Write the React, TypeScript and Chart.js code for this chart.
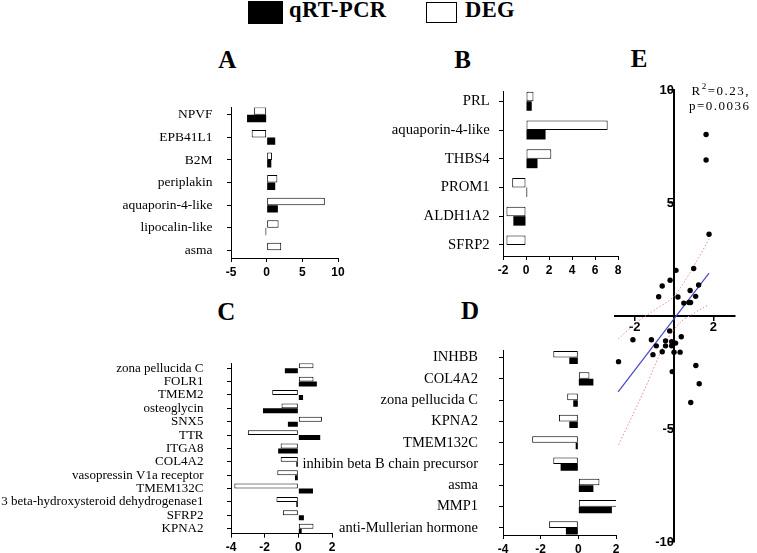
import React, { useEffect, useRef } from 'react';
import { Chart, registerables } from 'chart.js';

Chart.register(...registerables);

// ---------- DATA ----------
const labelsA = ['NPVF', 'EPB41L1', 'B2M', 'periplakin', 'aquaporin-4-like', 'lipocalin-like', 'asma'];
const degA = [-1.8, -2.1, 0.74, 1.5, 8.15, 1.67, 2.04];
const qpcrA: (number | null)[] = [-2.75, 1.2, 0.65, 1.2, 1.57, -0.15, null];

const labelsB = ['PRL', 'aquaporin-4-like', 'THBS4', 'PROM1', 'ALDH1A2', 'SFRP2'];
const degB = [0.65, 7.1, 2.2, -1.2, -1.7, -1.7];
const qpcrB: (number | null)[] = [0.5, 1.7, 1.0, 0.1, -1.1, null];

const labelsC = [
  'zona pellucida C', 'FOLR1', 'TMEM2', 'osteoglycin', 'SNX5', 'TTR', 'ITGA8', 'COL4A2',
  'vasopressin V1a receptor', 'TMEM132C', '3 beta-hydroxysteroid dehydrogenase1', 'SFRP2', 'KPNA2',
];
const degC = [0.9, 0.9, -1.55, -1.0, 1.4, -3.0, -1.05, -1.05, -1.25, -3.8, -1.3, -0.92, 0.9];
const qpcrC = [-0.8, 1.1, 0.28, -2.1, -0.62, 1.3, -1.2, -0.12, -0.2, 0.87, -0.12, 0.33, 0.2];

const labelsD = [
  'INHBB', 'COL4A2', 'zona pellucida C', 'KPNA2', 'TMEM132C', 'inhibin beta B chain precursor',
  'asma', 'MMP1', 'anti-Mullerian hormone',
];
const degD = [-1.33, 0.59, -0.59, -1.03, -2.45, -1.33, 1.12, 2.3, -1.55];
const qpcrD = [-0.48, 0.8, -0.27, -0.48, -0.14, -0.94, 0.8, 1.78, -0.66];

// Panel E: qRT-PCR (x) vs DEG (y)
const scatterX = [1.63, 1.63, 1.78, 0.1, 1.0, -0.6, -0.2, 1.25, -0.78, 0.2, 0.82, 1.1, 0.5, 0.76, 0.84,
  -2.09, -1.15, -0.22, -0.9, -1.07, -0.6, -0.43, -0.43, -0.12, -0.12, 0.08, 0, 0.31, 0.37,
  -2.82, -0.09, 1.11, 1.28, 0.85];
const scatterY = [8.03, 6.9, 3.62, 2.02, 2.1, 1.33, 1.58, 1.37, 0.85, 0.84, 1.13, 0.87, 0.57, 0.6, 0.6,
  -1.05, -1.05, -0.66, -1.32, -1.71, -1.58, -1.1, -1.32, -1.14, -1.32, -1.2, -1.6, -1.6, -0.92,
  -2.02, -2.46, -2.19, -3.0, -3.83];
const fitX = [-2.84, 1.78];
const fitY = [-3.36, 1.9];
const upperX = [-2.84, -1.8, -0.95, 0, 0.75, 1.78];
const upperY = [-1.02, -0.22, 0.29, 0.88, 1.83, 3.4];
const lowerX = [-2.82, -1.47, -0.45, 0.3, 0.92, 1.78];
const lowerY = [-5.7, -3.2, -1.2, -0.3, 0.07, 0.51];

const ticksA = [-5, 0, 5, 10];
const ticksB = [-2, 0, 2, 4, 6, 8];
const ticksC = [-4, -2, 0, 2];
const ticksD = [-4, -2, 0, 2];
const ticksEx = [-2, 2];
const ticksEy = [-10, -5, 5, 10];

// ---------- LAYOUT ----------
type Panel = {
  labels: string[]; deg: (number | null)[]; qpcr: (number | null)[]; xTicks: number[];
  axisX: number; rightX: number; topY: number; bottomY: number; yMin: number; yMax: number;
  labelW: number; labelFont: number; labelPad: number; catPct: number;
};

const panels: Panel[] = [
  { labels: labelsA, deg: degA, qpcr: qpcrA, xTicks: ticksA, axisX: 231, rightX: 338.3, topY: 95, bottomY: 257.5,
    yMin: -0.32, yMax: 6.34, labelW: 231, labelFont: 13.5, labelPad: 14.5, catPct: 0.66 },
  { labels: labelsB, deg: degB, qpcr: qpcrB, xTicks: ticksB, axisX: 503.3, rightX: 618.3, topY: 83.3, bottomY: 256.7,
    yMin: -0.354, yMax: 5.387, labelW: 140, labelFont: 14.7, labelPad: 9.3, catPct: 0.66 },
  { labels: labelsC, deg: degC, qpcr: qpcrC, xTicks: ticksC, axisX: 231, rightX: 331.7, topY: 341.7, bottomY: 535,
    yMin: -0.37, yMax: 12.376, labelW: 231, labelFont: 13, labelPad: 23.5, catPct: 0.74 },
  { labels: labelsD, deg: degD, qpcr: qpcrD, xTicks: ticksD, axisX: 503.3, rightX: 616, topY: 330.7, bottomY: 535,
    yMin: -0.32, yMax: 8.33, labelW: 210, labelFont: 14.5, labelPad: 21, catPct: 0.62 },
];

const SERIF = "'Liberation Serif', 'Times New Roman', serif";
const SANS = "'Liberation Sans', Arial, sans-serif";

function BarPanel({ p }: { p: Panel }) {
  const ref = useRef<HTMLCanvasElement>(null);
  const padTop = 10, axisH = 30, padRight = 14;
  const left = p.axisX - p.labelW;
  const top = p.topY - padTop;
  const width = Math.round(p.labelW + (p.rightX - p.axisX) + padRight);
  const height = Math.round(p.bottomY - p.topY + padTop + axisH);
  useEffect(() => {
    const chart = new Chart(ref.current as HTMLCanvasElement, {
      type: 'bar',
      data: {
        datasets: [
          {
            label: 'DEG',
            data: p.deg.map((v, i) => ({ x: v, y: i })) as any,
            backgroundColor: '#ffffff', borderColor: '#000000', borderWidth: 1, borderSkipped: false,
          },
          {
            label: 'qRT-PCR',
            data: p.qpcr.map((v, i) => ({ x: v, y: i })) as any,
            backgroundColor: '#000000', borderColor: '#000000', borderWidth: 0,
          },
        ],
      },
      options: {
        indexAxis: 'y',
        responsive: false,
        maintainAspectRatio: false,
        animation: false,
        layout: { padding: { top: padTop, right: padRight, left: 0, bottom: 0 } },
        plugins: { legend: { display: false }, tooltip: { enabled: false } },
        datasets: { bar: { categoryPercentage: p.catPct, barPercentage: 1 } },
        scales: {
          y: {
            type: 'linear', reverse: true, min: p.yMin, max: p.yMax, offset: false, bounds: 'data',
            afterBuildTicks: (s: any) => { s.ticks = p.labels.map((_, i) => ({ value: i })); },
            afterFit: (s: any) => { s.width = p.labelW; },
            ticks: {
              autoSkip: false,
              callback: (v: any) => p.labels[Math.round(Number(v))] ?? '',
              font: { family: SERIF, size: p.labelFont }, color: '#000', padding: p.labelPad,
            },
            grid: { display: true, drawOnChartArea: false, drawTicks: true, tickLength: 4, color: '#000', offset: false },
            border: { display: true, color: '#000', width: 1 },
          },
          x: {
            type: 'linear', min: p.xTicks[0], max: p.xTicks[p.xTicks.length - 1], bounds: 'data',
            afterBuildTicks: (s: any) => { s.ticks = p.xTicks.map((v) => ({ value: v })); },
            afterFit: (s: any) => { s.height = axisH; },
            ticks: { autoSkip: false, font: { family: SANS, size: 12, weight: 'bold' }, color: '#000', padding: 3 },
            grid: { display: true, drawOnChartArea: false, drawTicks: true, tickLength: 4, color: '#000' },
            border: { display: true, color: '#000', width: 1 },
          },
        },
      } as any,
    });
    return () => chart.destroy();
  }, []);
  return (
    <canvas ref={ref} width={width} height={height}
      style={{ position: 'absolute', left, top, width, height }} />
  );
}

function ScatterPanel() {
  const ref = useRef<HTMLCanvasElement>(null);
  const L = 615, R = 735, T = 90, B = 542, pad = 20;
  const left = L - pad, top = T - pad, width = R - L + 2 * pad, height = B - T + 2 * pad;
  useEffect(() => {
    const toPts = (xs: number[], ys: number[]) => xs.map((x, i) => ({ x, y: ys[i] }));
    const chart = new Chart(ref.current as HTMLCanvasElement, {
      type: 'scatter',
      data: {
        datasets: [
          { data: toPts(scatterX, scatterY), pointRadius: 2.7, backgroundColor: '#000', borderWidth: 0, pointHoverRadius: 2.7 },
          { data: toPts(fitX, fitY), showLine: true, borderColor: '#4646c8', borderWidth: 1.2, pointRadius: 0 },
          { data: toPts(upperX, upperY), showLine: true, borderColor: '#e68a8a', borderWidth: 1, borderDash: [1.5, 2],
            pointRadius: 0, cubicInterpolationMode: 'monotone' },
          { data: toPts(lowerX, lowerY), showLine: true, borderColor: '#e68a8a', borderWidth: 1, borderDash: [1.5, 2],
            pointRadius: 0, cubicInterpolationMode: 'monotone' },
        ],
      },
      options: {
        responsive: false,
        maintainAspectRatio: false,
        animation: false,
        layout: { padding: pad },
        plugins: { legend: { display: false }, tooltip: { enabled: false } },
        scales: {
          x: {
            type: 'linear', min: -3, max: 3.1, position: { y: 0 }, bounds: 'data',
            afterBuildTicks: (s: any) => { s.ticks = ticksEx.map((v) => ({ value: v })); },
            ticks: { autoSkip: false, font: { family: SANS, size: 13, weight: 'bold' }, color: '#000', padding: 0 },
            grid: { display: true, drawOnChartArea: false, drawTicks: true, tickLength: 4, color: '#000', lineWidth: 1.5 },
            border: { display: true, color: '#000', width: 2 },
          },
          y: {
            type: 'linear', min: -10, max: 10, position: { x: 0 }, bounds: 'data',
            afterBuildTicks: (s: any) => { s.ticks = ticksEy.map((v) => ({ value: v })); },
            ticks: { autoSkip: false, font: { family: SANS, size: 13, weight: 'bold' }, color: '#000', padding: 2 },
            grid: { display: true, drawOnChartArea: false, drawTicks: true, tickLength: 4, color: '#000', lineWidth: 1.5 },
            border: { display: true, color: '#000', width: 2 },
          },
        },
      } as any,
    });
    return () => chart.destroy();
  }, []);
  return (
    <canvas ref={ref} width={width} height={height}
      style={{ position: 'absolute', left, top, width, height }} />
  );
}

function Txt({ x, base, size, bold, children, family, spacing, center }: any) {
  const ff = family || SERIF;
  const k = ff === SANS ? 0.8465 : 0.8375;
  const style: React.CSSProperties = {
    position: 'absolute', top: base - k * size, fontFamily: ff, fontSize: size, lineHeight: `${size}px`,
    fontWeight: bold ? 'bold' : 'normal', whiteSpace: 'nowrap', color: '#000',
    letterSpacing: spacing || 0,
  };
  if (center) { style.left = x - 50; style.width = 100; style.textAlign = 'center'; }
  else style.left = x;
  return <div style={style}>{children}</div>;
}

export default function App() {
  return (
    <div style={{ position: 'absolute', left: 0, top: 0, width: 757, height: 553, background: '#fff', overflow: 'hidden' }}>
      {/* legend */}
      <div style={{ position: 'absolute', left: 248, top: 1, width: 35, height: 23, background: '#000' }} />
      <Txt x={289} base={17.5} size={22.5} bold spacing="0.4px">qRT-PCR</Txt>
      <div style={{ position: 'absolute', left: 425.7, top: 1.7, width: 31, height: 21, border: '1px solid #000', boxSizing: 'border-box', background: '#fff' }} />
      <Txt x={465} base={17.5} size={22.5} bold spacing="0.4px">DEG</Txt>

      {/* panel letters */}
      <Txt x={227.3} base={68.3} size={25} bold center>A</Txt>
      <Txt x={462.7} base={68.3} size={25} bold center>B</Txt>
      <Txt x={226.2} base={320} size={25} bold center>C</Txt>
      <Txt x={470} base={319.3} size={25} bold center>D</Txt>
      <Txt x={639.2} base={66.7} size={25} bold center>E</Txt>

      {panels.map((p, i) => <BarPanel key={i} p={p} />)}
      <ScatterPanel />

      <Txt x={691.5} base={95} size={13} spacing="1.5px">R<sup style={{ fontSize: 9, verticalAlign: 'top', lineHeight: '9px', position: 'relative', top: -2 }}>2</sup>=0.23,</Txt>
      <Txt x={689} base={110} size={13} spacing="1.5px">p=0.0036</Txt>
    </div>
  );
}
